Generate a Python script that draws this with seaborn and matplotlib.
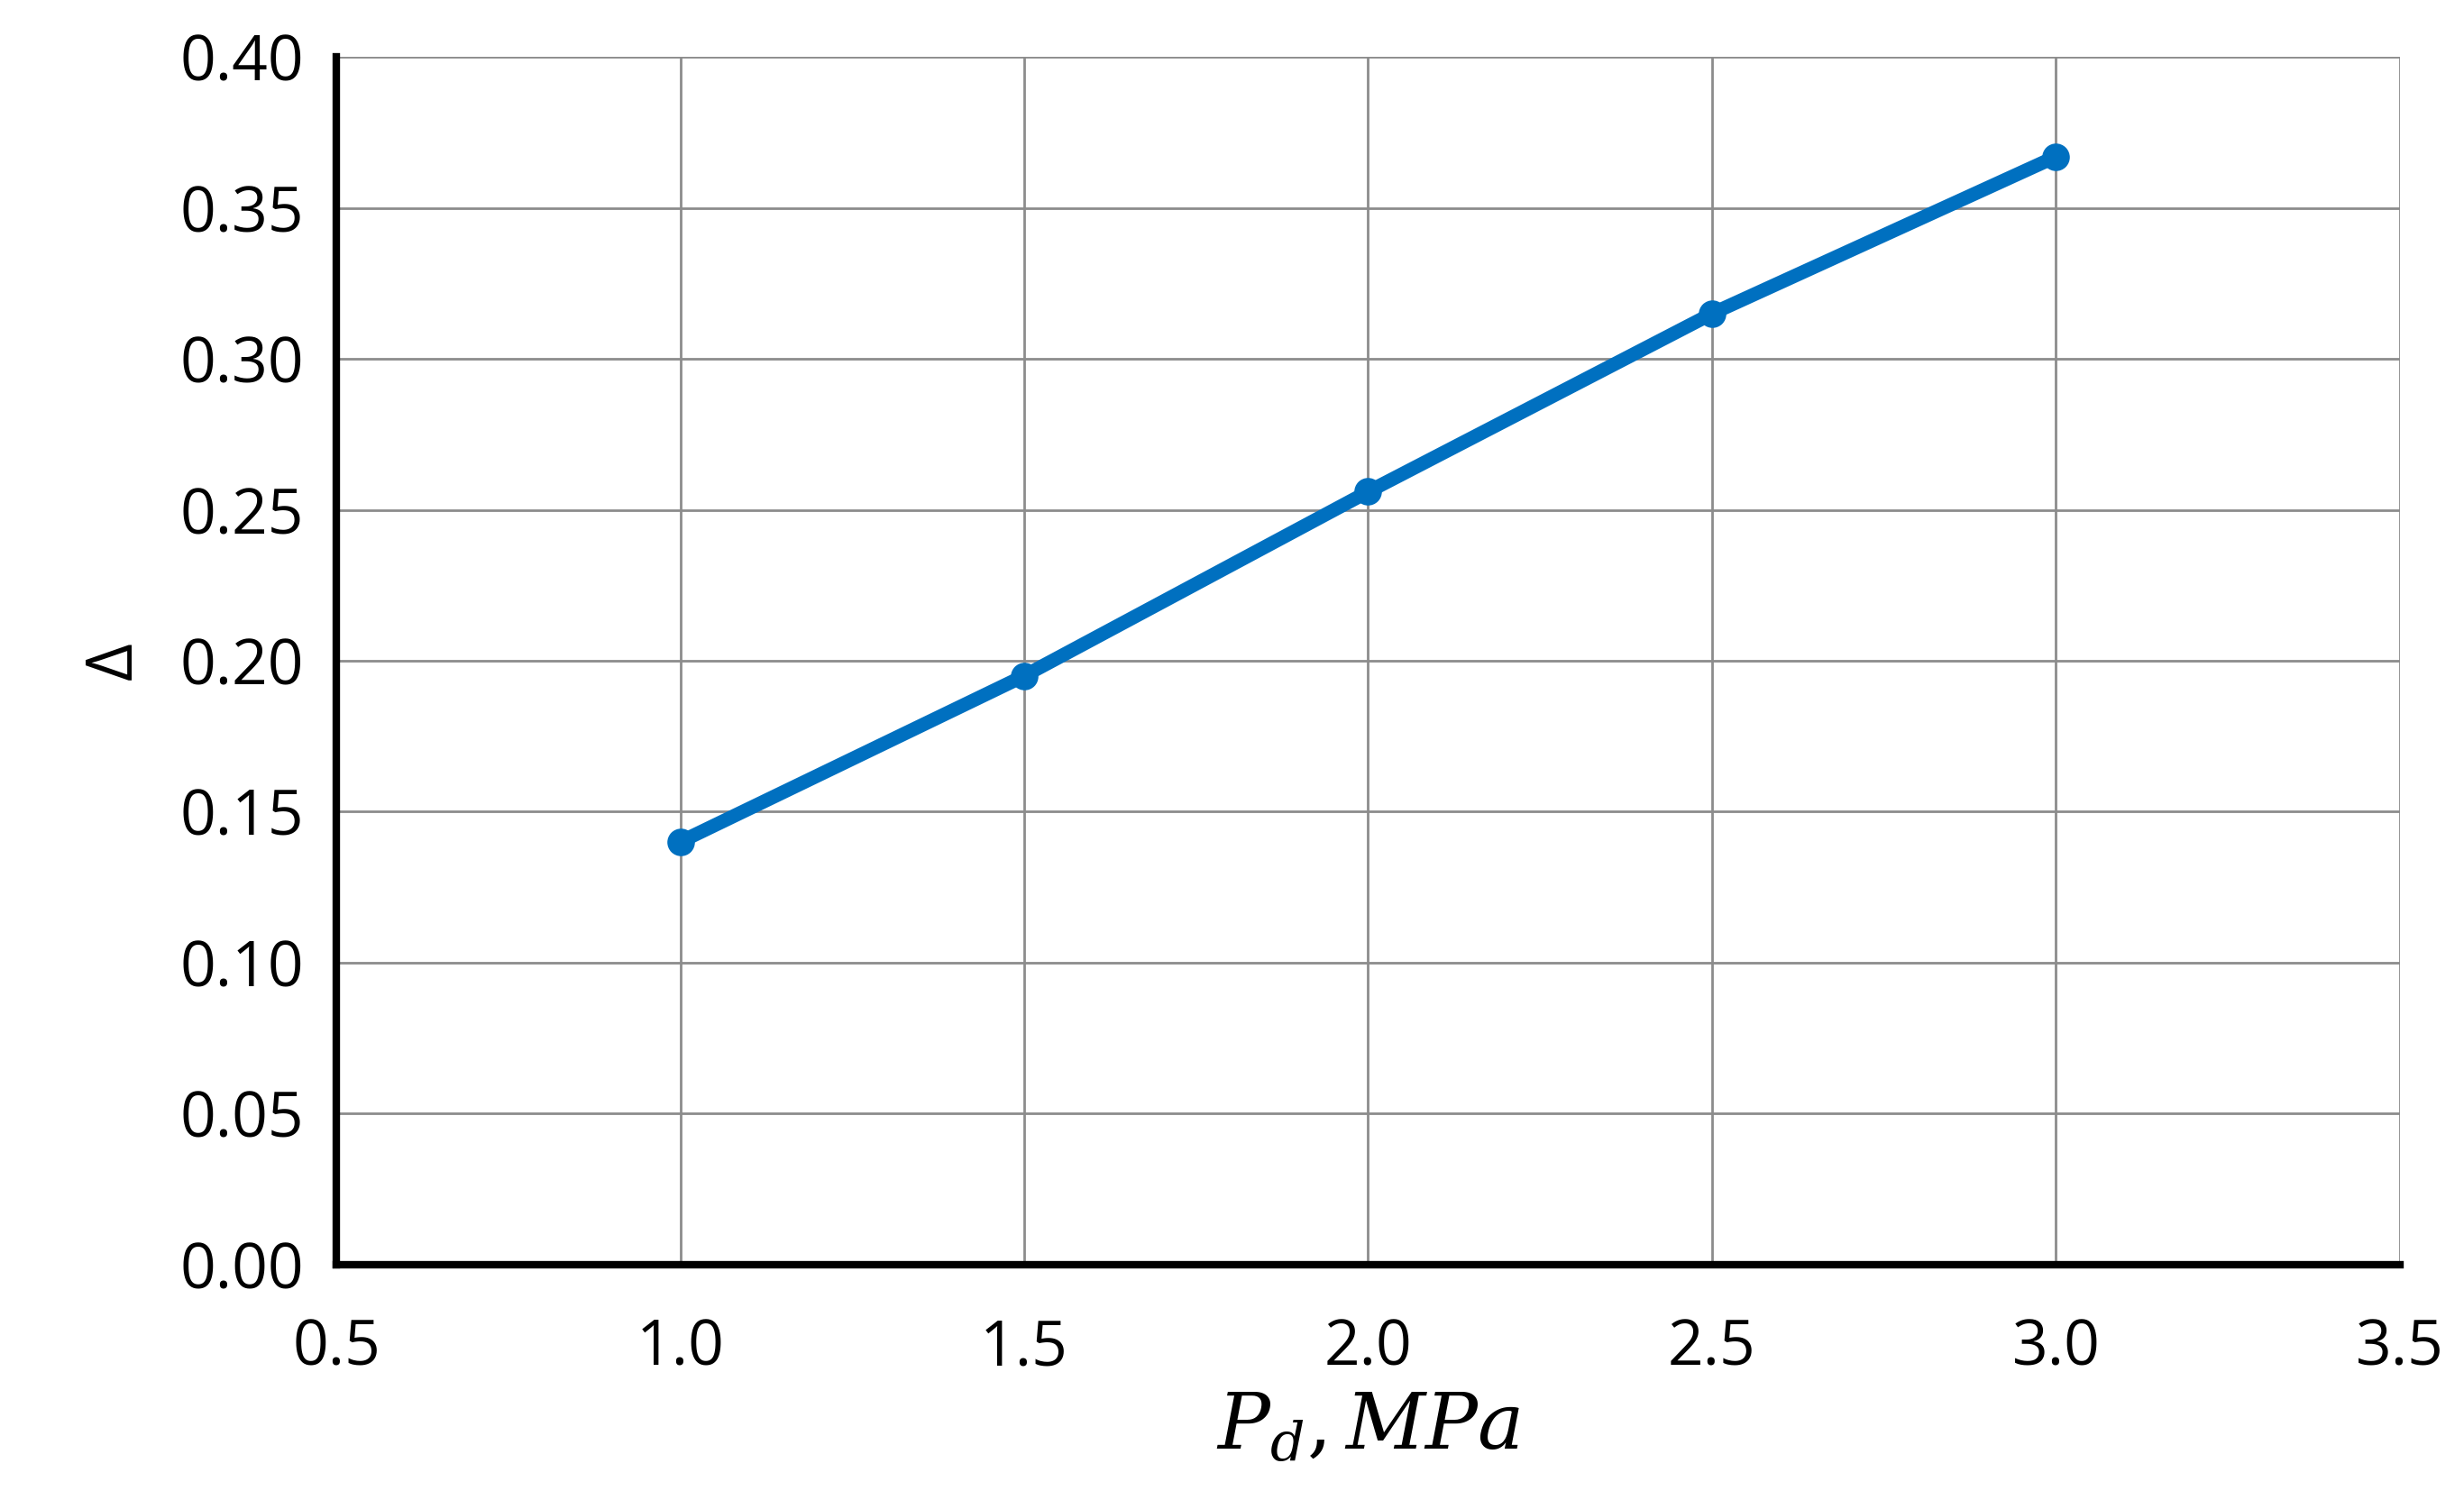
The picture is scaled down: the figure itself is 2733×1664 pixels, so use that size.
import matplotlib
matplotlib.use("Agg")
import matplotlib.pyplot as plt
import seaborn as sns
import numpy as np
import pandas as pd

pressure = [1.0, 1.5, 2.0, 2.5, 3.0]
delta = [0.140, 0.195, 0.256, 0.315, 0.367]
xticks = [0.5, 1.0, 1.5, 2.0, 2.5, 3.0, 3.5]
yticks = [0.00, 0.05, 0.10, 0.15, 0.20, 0.25, 0.30, 0.35, 0.40]

sns.set_style("white")
plt.rcParams['font.family'] = ['Open Sans', 'DejaVu Sans']
plt.rcParams['mathtext.fontset'] = 'dejavuserif'

fig = plt.figure(figsize=(27.33, 16.64), dpi=100)
ax = fig.add_axes([0.1365, 0.157, 0.8375, 0.805])
df = pd.DataFrame({"P": pressure, "D": delta})
sns.lineplot(data=df, x="P", y="D", ax=ax, color="#0070C0", linewidth=11,
             marker="o", markersize=22, markeredgewidth=0)
ax.set_xlim(0.5, 3.5)
ax.set_ylim(0, 0.40)
ax.set_xticks(xticks)
ax.set_yticks(yticks)
ax.set_xticklabels([f"{v:.1f}" for v in xticks])
ax.set_yticklabels([f"{v:.2f}" for v in yticks])
ax.grid(True, color="#8c8c8c", linewidth=2)
for s in ["top", "right"]:
    ax.spines[s].set_visible(False)
for s in ["left", "bottom"]:
    ax.spines[s].set_color("black")
    ax.spines[s].set_linewidth(6)
ax.tick_params(axis="both", which="major", labelsize=50, labelcolor="black",
               direction="inout", length=24, width=5, color="black")
ax.tick_params(axis="x", pad=30)
ax.tick_params(axis="y", pad=14)
ax.set_xlabel(r"$P_d, MPa$", fontsize=62, labelpad=8, color="black")
ax.set_ylabel("Δ", fontsize=52, labelpad=26, color="black")
fig.savefig("out.png", dpi=100, facecolor="white")
